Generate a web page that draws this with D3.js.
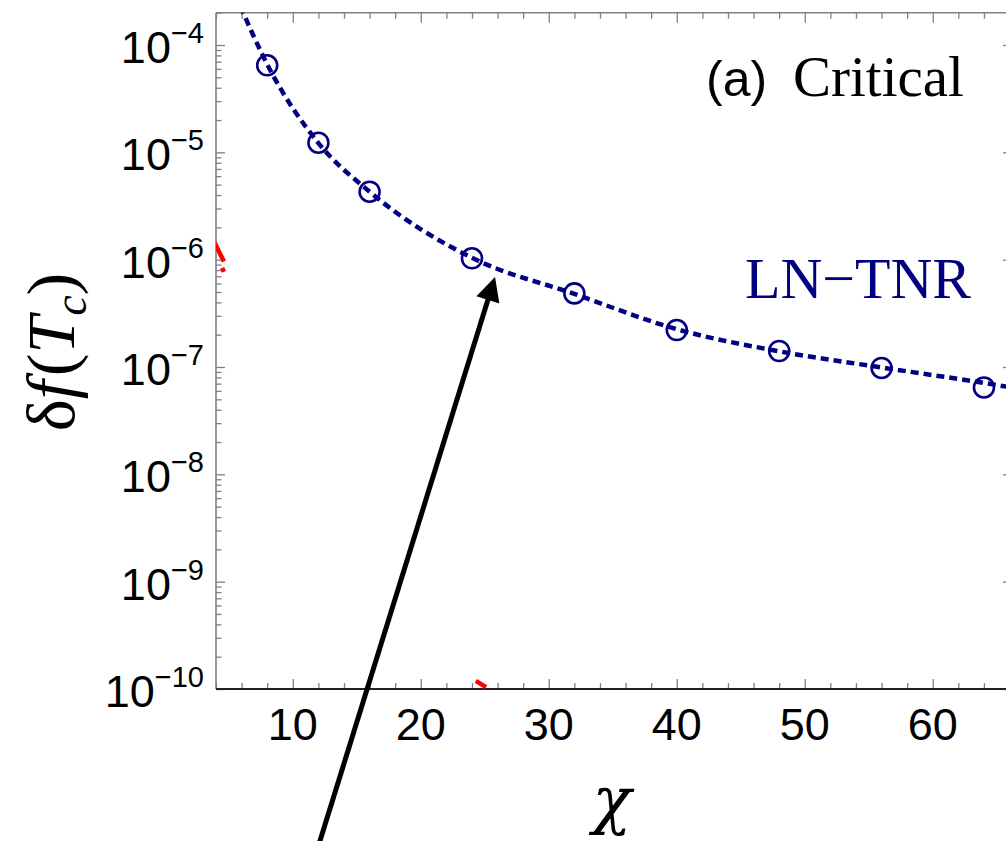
<!DOCTYPE html>
<html>
<head>
    <script src="https://d3js.org/d3.v7.min.js" charset="utf-8"></script>
    <style>
        body { margin: 0; background: #fff; }
        svg { display: block; }
    </style>
</head>
<body>
    <script>
        // LN-TNR data points (chi, delta f)
        var chiValues = [8, 12, 16, 24, 32, 40, 48, 56, 64];
        var dfValues = [6.47e-5, 1.23e-5, 4.30e-6, 1.03e-6, 4.85e-7, 2.21e-7, 1.41e-7, 9.8e-8, 6.45e-8];

        // dashed fit curve
        var fitChi = [5.9, 8, 12, 16, 24, 32, 40, 48, 56, 64, 66.3];
        var fitDf = [2.3e-4, 6.6e-5, 1.22e-5, 4.3e-6, 1.04e-6, 4.8e-7, 2.25e-7, 1.4e-7, 9.9e-8, 7.1e-8, 6.4e-8];

        // bits of a red curve that peek in at the edges
        var redPieces = [
            [[3.7, 1.6e-6], [4.62, 9.6e-7]],
            [[4.48, 8.4e-7], [4.62, 7.7e-7]],
            [[24.3, 1.19e-10], [25.1, 1.04e-10]]
        ];

        // arrow: tail (off the bottom) -> head
        var arrowChi = [11.66, 25.8];
        var arrowDf = [2.55e-12, 6.9e-7];

        var xMajor = [10, 20, 30, 40, 50, 60];
        var yMajor = [1e-10, 1e-9, 1e-8, 1e-7, 1e-6, 1e-5, 1e-4];
        var yExp = ["−10", "−9", "−8", "−7", "−6", "−5", "−4"];

        var pL = 216, pR = 1013, pT = 12.7, pB = 689;

        var svg = d3.select("body")
            .append("svg")
            .attr("width", 1006)
            .attr("height", 841);

        var x = d3.scaleLinear().domain([4, 66.27]).range([pL, pR]);
        var y = d3.scaleLog().domain([1e-10, 2e-4]).range([pB, pT]);

        var xMinor = d3.range(4, 66.3, 2).filter(function (d) { return d % 10 != 0; });
        var yMinor = y.ticks().filter(function (d) {
            return yMajor.indexOf(d) < 0;
        });

        svg.append("clipPath").attr("id", "plot")
            .append("rect")
            .attr("x", pL).attr("y", pT)
            .attr("width", pR - pL).attr("height", pB - pT);

        var frame = "#808080";

        // ticks on all four sides
        function ticks(axis, vals, len, tx) {
            svg.append("g")
                .attr("transform", tx)
                .call(axis.tickValues(vals).tickSize(len).tickFormat(""))
                .call(function (g) {
                    g.select(".domain").remove();
                    g.selectAll("line").attr("stroke", frame).attr("stroke-width", 1.3);
                });
        }
        ticks(d3.axisBottom(x), xMajor, -10, "translate(0," + pB + ")");
        ticks(d3.axisBottom(x), xMinor, -6, "translate(0," + pB + ")");
        ticks(d3.axisTop(x), xMajor, -10, "translate(0," + pT + ")");
        ticks(d3.axisTop(x), xMinor, -6, "translate(0," + pT + ")");
        ticks(d3.axisLeft(y), yMajor, -9, "translate(" + pL + ",0)");
        ticks(d3.axisLeft(y), yMinor, -5.5, "translate(" + pL + ",0)");
        ticks(d3.axisRight(y), yMajor, -10, "translate(" + pR + ",0)");
        ticks(d3.axisRight(y), yMinor, -6, "translate(" + pR + ",0)");

        // frame lines
        svg.append("line").attr("x1", pL).attr("x2", pL).attr("y1", pT).attr("y2", pB)
            .attr("stroke", frame).attr("stroke-width", 1.6);
        svg.append("line").attr("x1", pL).attr("x2", pR).attr("y1", pT).attr("y2", pT)
            .attr("stroke", frame).attr("stroke-width", 1.6);
        svg.append("line").attr("x1", pR).attr("x2", pR).attr("y1", pT).attr("y2", pB)
            .attr("stroke", frame).attr("stroke-width", 1.6);
        svg.append("line").attr("x1", pL).attr("x2", pR).attr("y1", pB).attr("y2", pB)
            .attr("stroke", "#222").attr("stroke-width", 1.8);

        // tick labels
        svg.selectAll(".xlab")
            .data(xMajor)
            .enter()
            .append("text")
            .attr("x", function (d) { return x(d); })
            .attr("y", 740)
            .attr("text-anchor", "middle")
            .style("font-family", "Liberation Sans, Arial, sans-serif")
            .style("font-size", "45px")
            .text(function (d) { return d; });

        var ylab = svg.selectAll(".ylab")
            .data(yMajor)
            .enter()
            .append("text")
            .attr("x", 204)
            .attr("y", function (d) { return y(d) + 18; })
            .attr("text-anchor", "end")
            .style("font-family", "Liberation Sans, Arial, sans-serif")
            .style("font-size", "45px");
        ylab.append("tspan").text("10");
        ylab.append("tspan")
            .attr("dy", -20)
            .style("font-size", "29px")
            .text(function (d, i) { return yExp[i]; });

        var plot = svg.append("g").attr("clip-path", "url(#plot)");

        // red pieces
        plot.selectAll(".red")
            .data(redPieces)
            .enter()
            .append("path")
            .attr("d", d3.line()
                .x(function (d) { return x(d[0]); })
                .y(function (d) { return y(d[1]); }))
            .attr("fill", "none")
            .attr("stroke", "red")
            .attr("stroke-width", 4.5);

        // fit curve
        plot.append("path")
            .datum(d3.zip(fitChi, fitDf))
            .attr("d", d3.line()
                .x(function (d) { return x(d[0]); })
                .y(function (d) { return y(d[1]); })
                .curve(d3.curveMonotoneX))
            .attr("fill", "none")
            .attr("stroke", "#000080")
            .attr("stroke-width", 4.5)
            .attr("stroke-dasharray", "8,5");

        // data points
        plot.selectAll("circle")
            .data(d3.zip(chiValues, dfValues))
            .enter()
            .append("circle")
            .attr("cx", function (d) { return x(d[0]); })
            .attr("cy", function (d) { return y(d[1]); })
            .attr("r", 10)
            .attr("fill", "none")
            .attr("stroke", "#000080")
            .attr("stroke-width", 2.6);

        // arrow
        svg.append("defs").append("marker")
            .attr("id", "head")
            .attr("viewBox", "0 0 10 10")
            .attr("refX", 10).attr("refY", 5)
            .attr("markerWidth", 28).attr("markerHeight", 24)
            .attr("markerUnits", "userSpaceOnUse")
            .attr("orient", "auto")
            .append("path")
            .attr("d", "M0,0 L10,5 L0,10 Z")
            .attr("fill", "black");
        var ax0 = x(arrowChi[0]), ay0 = y(arrowDf[0]);
        var ax1 = x(arrowChi[1]), ay1 = y(arrowDf[1]);
        var len = Math.hypot(ax1 - ax0, ay1 - ay0);
        svg.append("line")
            .attr("x1", ax0).attr("y1", ay0)
            .attr("x2", ax1 - (ax1 - ax0) * 20 / len)
            .attr("y2", ay1 - (ay1 - ay0) * 20 / len)
            .attr("stroke", "black")
            .attr("stroke-width", 5);
        svg.append("line")
            .attr("x1", ax1 - (ax1 - ax0) * 26 / len)
            .attr("y1", ay1 - (ay1 - ay0) * 26 / len)
            .attr("x2", ax1).attr("y2", ay1)
            .attr("stroke", "none")
            .attr("marker-end", "url(#head)");

        // labels
        var title = svg.append("text")
            .attr("x", 706)
            .attr("y", 96)
            .style("font-size", "50px");
        title.append("tspan")
            .style("font-family", "Liberation Sans, Arial, sans-serif")
            .text("(a)");
        title.append("tspan")
            .attr("x", 793)
            .style("font-family", "Liberation Serif, Times New Roman, serif")
            .style("font-size", "57px")
            .text("Critical");

        svg.append("text")
            .attr("x", 745)
            .attr("y", 298)
            .attr("fill", "#000080")
            .style("font-family", "Liberation Serif, Times New Roman, serif")
            .style("font-size", "58px")
            .text("LN−TNR");

        svg.append("text")
            .attr("x", 612)
            .attr("y", 822)
            .attr("text-anchor", "middle")
            .style("font-family", "DejaVu Serif, serif")
            .style("font-style", "italic")
            .style("font-size", "64px")
            .text("χ");

        var ytitle = svg.append("text")
            .attr("transform", "translate(74,352) rotate(-90)")
            .attr("text-anchor", "middle")
            .style("font-family", "Liberation Serif, Times New Roman, serif")
            .style("font-size", "68px");
        ytitle.append("tspan").text("δ");
        ytitle.append("tspan").style("font-style", "italic").text("f");
        ytitle.append("tspan").attr("dx", 4).text("(");
        ytitle.append("tspan").style("font-style", "italic").text("T");
        ytitle.append("tspan").attr("dy", 12).style("font-style", "italic").style("font-size", "46px").text("c");
        ytitle.append("tspan").attr("dy", -12).text(")");
    </script>
</body>
</html>
